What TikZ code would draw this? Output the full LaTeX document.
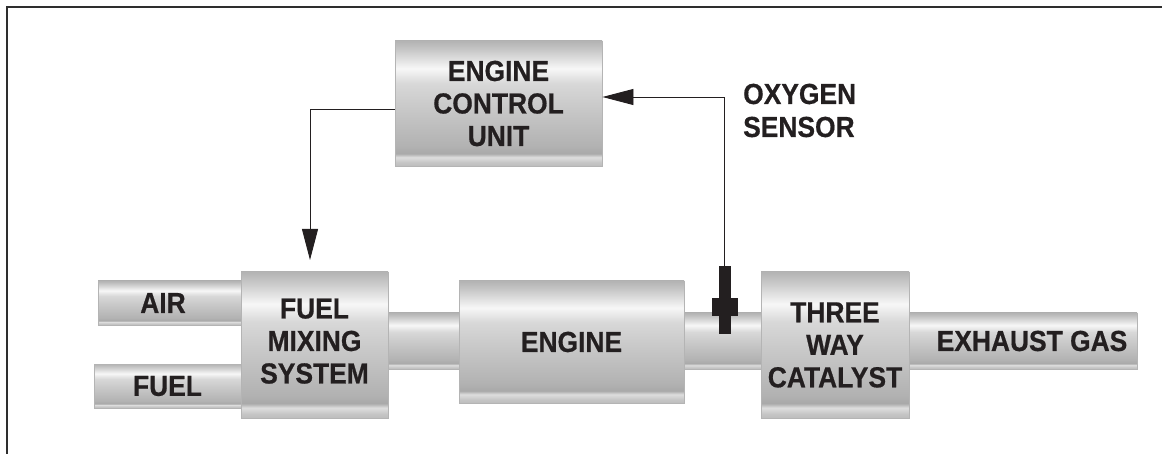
\documentclass[tikz,border=0pt]{standalone}
\usepackage{fontspec}
\setmainfont{Liberation Sans}[FakeStretch=0.91, BoldFeatures={FakeBold=0.6}]
\usetikzlibrary{arrows.meta}
\definecolor{ink}{HTML}{231F20}
\definecolor{frameclr}{HTML}{2E2E2E}
\definecolor{mBorder}{HTML}{B4B4B4}
\definecolor{mEdge}{HTML}{BDBDBD}
\definecolor{mLow2}{HTML}{C6C6C6}
\definecolor{mBand}{HTML}{DEDEDE}
\definecolor{mDark}{HTML}{A9A9A9}
\definecolor{mDark2}{HTML}{B2B2B2}
\definecolor{mMid}{HTML}{CBCBCB}
\definecolor{mMid2}{HTML}{D8D8D8}
\definecolor{mHi}{HTML}{F7F7F7}
\definecolor{mTop2}{HTML}{C4C4C4}
\definecolor{mTop}{HTML}{B3B3B3}
\pgfdeclareverticalshading{metal}{100bp}{%
 color(0bp)=(mEdge);
 color(25bp)=(mEdge);
 color(26.5bp)=(mLow2);
 color(28.5bp)=(mBand);
 color(30bp)=(mDark);
 color(33bp)=(mDark2);
 color(50bp)=(mMid);
 color(58bp)=(mMid2);
 color(64bp)=(mHi);
 color(72bp)=(mTop2);
 color(75bp)=(mTop);
 color(100bp)=(mTop)}
\tikzset{
  metalpart/.style={draw=mBorder, line width=0.9pt, shade, shading=metal,
    inner sep=0pt, align=center, text=ink,
    font=\bfseries\fontsize{29}{32.5}\selectfont},
  lbl/.style={inner sep=0pt, align=left, text=ink,
    font=\bfseries\fontsize{29}{33}\selectfont},
  conn/.style={draw=ink, line width=0.9pt},
  tip/.style={-{Triangle[length=31pt,width=16pt]}},
  sensorpart/.style={fill=ink, draw=ink, line width=0.5pt, inner sep=0pt},
  frameline/.style={draw=frameclr, line width=2.5pt}
}
\begin{document}
\begin{tikzpicture}[x=1pt,y=-1pt]
\useasboundingbox (0,0) rectangle (1162,454);
% frame
\coordinate (fbl) at (7,454);
\coordinate (ftl) at (7,7);
\coordinate (ftr) at (1162,7);
\draw[frameline] (fbl) -- (ftl) -- (ftr);
% pipes (behind boxes)
\node[metalpart, minimum width=143pt, minimum height=44pt] (air) at (169.5,303) {\hspace*{-13pt}AIR};
\node[metalpart, minimum width=147pt, minimum height=44pt] (fuel) at (167.5,386) {FUEL};
\node[metalpart, minimum width=73pt, minimum height=56pt] (pipeA) at (423.5,341) {};
\node[metalpart, minimum width=79pt, minimum height=56pt] (pipeB) at (722.5,341) {};
\node[metalpart, minimum width=228pt, minimum height=56pt] (exhaust) at (1023,341) {\hspace*{18pt}EXHAUST GAS};
% boxes
\node[metalpart, minimum width=207pt, minimum height=125pt] (ecu) at (498.5,103.5) {ENGINE\\CONTROL\\UNIT};
\node[metalpart, minimum width=147pt, minimum height=146pt] (fms) at (314.5,345) {FUEL\\MIXING\\SYSTEM\\[-24.5pt]\mbox{}};
\node[metalpart, minimum width=225pt, minimum height=122pt] (eng) at (571.5,342) {ENGINE};
\node[metalpart, minimum width=148pt, minimum height=146pt] (twc) at (835,345) {THREE\\WAY\\CATALYST};
% oxygen sensor
\node[sensorpart, minimum width=11pt, minimum height=67pt] (rod) at (724.5,299.5) {};
\node[sensorpart, minimum width=25pt, minimum height=17pt] (sensor) at (724.5,306.5) {};
\node[lbl, anchor=west] (o2lbl) at (743,110.5) {OXYGEN\\SENSOR};
% connectors
\coordinate (fmsin) at (310,260);
\draw[conn, tip] ([yshift=-5.5pt]ecu.west) -| (fmsin);
\draw[conn, tip] (rod.north) |- ([yshift=6.5pt]ecu.east);
\end{tikzpicture}
\end{document}
